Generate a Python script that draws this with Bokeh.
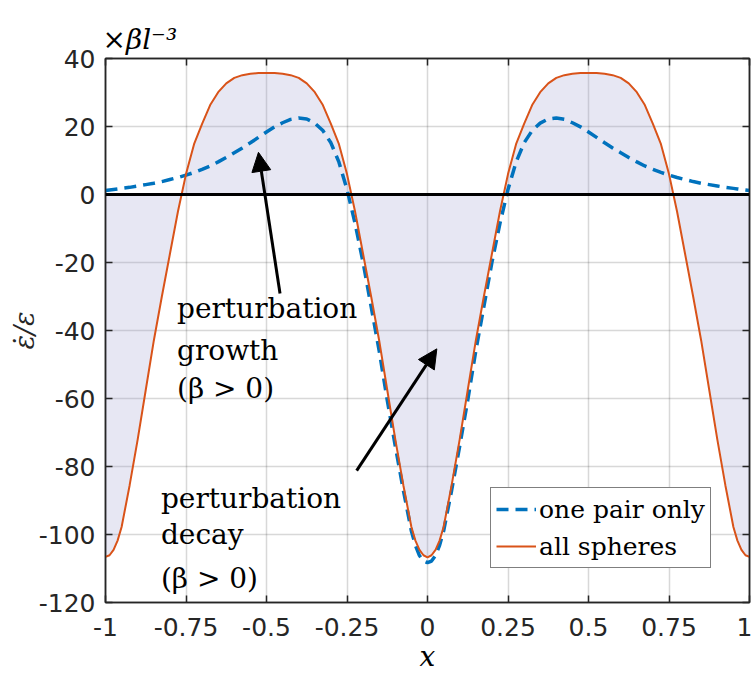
from bokeh.plotting import figure
from bokeh.models import (LinearAxis, FixedTicker, Span, Arrow, NormalHead,
                          Legend, LegendItem, Range1d)
from bokeh.core.properties import value
from bokeh.embed import file_html
from bokeh.resources import INLINE

# ---------------- data ----------------
x_vals = [-1.0, -0.9875, -0.975, -0.9625, -0.95, -0.925, -0.9, -0.875, -0.85, -0.825, -0.8, -0.775,
          -0.75, -0.725, -0.7, -0.675, -0.65, -0.625, -0.6, -0.575, -0.55, -0.525,
          -0.5, -0.475, -0.45, -0.425, -0.4, -0.375, -0.35, -0.325, -0.3, -0.275,
          -0.25, -0.225, -0.2, -0.175, -0.15, -0.125, -0.1, -0.075, -0.05, -0.0375, -0.025, -0.0125,
          0.0, 0.0125, 0.025, 0.0375, 0.05, 0.075, 0.1, 0.125, 0.15, 0.175, 0.2, 0.225,
          0.25, 0.275, 0.3, 0.325, 0.35, 0.375, 0.4, 0.425, 0.45, 0.475,
          0.5, 0.525, 0.55, 0.575, 0.6, 0.625, 0.65, 0.675, 0.7, 0.725,
          0.75, 0.775, 0.8, 0.825, 0.85, 0.875, 0.9, 0.925, 0.95, 0.9625, 0.975, 0.9875, 1.0]

all_spheres = [-106.6, -106.1, -104.5, -101.8, -97.8, -85.5, -72.0, -57.5, -43.0, -30.0, -17.5, -5.0,
               6.0, 14.8, 20.8, 26.3, 30.1, 32.7, 34.3, 35.1, 35.5, 35.7,
               35.7, 35.7, 35.5, 35.1, 34.3, 32.7, 30.1, 26.3, 20.8, 14.8,
               6.0, -5.0, -17.5, -30.0, -43.0, -57.5, -72.0, -85.5, -97.8, -101.8, -104.5, -106.1,
               -106.7, -106.1, -104.5, -101.8, -97.8, -85.5, -72.0, -57.5, -43.0, -30.0, -17.5, -5.0,
               6.0, 14.8, 20.8, 26.3, 30.1, 32.7, 34.3, 35.1, 35.5, 35.7,
               35.7, 35.7, 35.5, 35.1, 34.3, 32.7, 30.1, 26.3, 20.8, 14.8,
               6.0, -5.0, -17.5, -30.0, -43.0, -57.5, -72.0, -85.5, -97.8, -101.8, -104.5, -106.1, -106.6]

one_pair = [1.2, 1.35, 1.5, 1.65, 1.8, 2.1, 2.5, 2.9, 3.3, 3.8, 4.4, 5.0,
            5.7, 6.5, 7.4, 8.4, 9.6, 10.9, 12.3, 13.7, 15.2, 16.8,
            18.4, 19.9, 21.1, 22.1, 22.5, 22.2, 21.0, 18.8, 15.2, 9.5,
            1.5, -8.5, -20.0, -33.0, -46.0, -60.5, -74.0, -87.0, -99.0, -103.2, -106.2, -107.8,
            -108.3, -107.8, -106.2, -103.2, -99.0, -87.0, -74.0, -60.5, -46.0, -33.0, -20.0, -8.5,
            1.5, 9.5, 15.2, 18.8, 21.0, 22.2, 22.5, 22.1, 21.1, 19.9,
            18.4, 16.8, 15.2, 13.7, 12.3, 10.9, 9.6, 8.4, 7.4, 6.5,
            5.7, 5.0, 4.4, 3.8, 3.3, 2.9, 2.5, 2.1, 1.8, 1.65, 1.5, 1.35, 1.2]

x_ticks = [-1, -0.75, -0.5, -0.25, 0, 0.25, 0.5, 0.75, 1]
x_tick_labels = ["-1", "-0.75", "-0.5", "-0.25", "0", "0.25", "0.5", "0.75", "1"]
y_ticks = [-120, -100, -80, -60, -40, -20, 0, 20, 40]
y_tick_labels = ["-120", "-100", "-80", "-60", "-40", "-20", "0", "20", "40"]

series_names = ["one pair only", "all spheres"]
growth_lines = ["perturbation", "growth", "(β > 0)"]
decay_lines = ["perturbation", "decay", "(β > 0)"]

# ---------------- figure ----------------
AX = "#262626"
p = figure(width=752, height=675, output_backend="svg", toolbar_location=None,
           x_range=Range1d(-1, 1), y_range=Range1d(-120, 40),
           min_border_left=105, min_border_right=3, min_border_top=58,
           min_border_bottom=73, background_fill_color="white",
           border_fill_color="white", title="×βl⁻³")
p.outline_line_color = AX
p.outline_line_width = 1.5

p.title.text_font = "DejaVu Serif"
p.title.text_font_style = "italic"
p.title.text_font_size = "28px"
p.title.text_color = "black"
p.title.align = "left"
p.title.offset = -3
p.title.standoff = 6

def style_axis(ax, labels=True):
    ax.axis_line_color = AX
    ax.axis_line_width = 1.5
    ax.major_tick_line_color = AX
    ax.major_tick_line_width = 1.5
    ax.major_tick_in = 7
    ax.major_tick_out = 0
    ax.minor_tick_line_color = None
    if labels:
        ax.major_label_text_font = "DejaVu Sans"
        ax.major_label_text_font_size = "25px"
        ax.major_label_text_color = AX
    else:
        ax.major_label_text_color = None
        ax.major_label_text_font_size = "0px"
        ax.major_label_standoff = 0

xa = p.xaxis[0]
xa.ticker = FixedTicker(ticks=x_ticks)
xa.major_label_overrides = dict(zip(x_ticks, x_tick_labels))
style_axis(xa)
xa.major_label_standoff = 15
xa.axis_label = "x"
xa.axis_label_text_font = "DejaVu Serif"
xa.axis_label_text_font_style = "italic"
xa.axis_label_text_font_size = "28px"
xa.axis_label_text_color = "black"
xa.axis_label_standoff = 1

ya = p.yaxis[0]
ya.ticker = FixedTicker(ticks=y_ticks)
ya.major_label_overrides = dict(zip(y_ticks, y_tick_labels))
style_axis(ya)
ya.major_label_standoff = 10
ya.axis_label = "ε̇/ε"
ya.axis_label_text_font = "DejaVu Serif"
ya.axis_label_text_font_style = "italic"
ya.axis_label_text_font_size = "27px"
ya.axis_label_text_color = AX
ya.axis_label_standoff = -4

top = LinearAxis(ticker=FixedTicker(ticks=x_ticks))
style_axis(top, labels=False)
p.add_layout(top, "above")
right = LinearAxis(ticker=FixedTicker(ticks=y_ticks))
style_axis(right, labels=False)
p.add_layout(right, "right")

for g in (p.xgrid[0], p.ygrid[0]):
    g.grid_line_color = "#262626"
    g.grid_line_alpha = 0.18
    g.grid_line_width = 1.5
p.xgrid[0].ticker = FixedTicker(ticks=x_ticks)
p.ygrid[0].ticker = FixedTicker(ticks=y_ticks)

# fill between curve and zero
p.varea(x=x_vals, y1=0, y2=all_spheres, fill_color="#9999CC", fill_alpha=0.24)

r_blue = p.line(x_vals, one_pair, line_color="#0072BD", line_width=3.5,
                line_dash="12 7")
r_orange = p.line(x_vals, all_spheres, line_color="#D95319", line_width=2)

p.add_layout(Span(location=0, dimension="width", line_color="black", line_width=3))

# annotations
serif = value("DejaVu Serif")
p.text(x=[-0.778, -0.778, -0.778], y=[-33.5, -45.9, -57.2], text=growth_lines,
       text_font=serif, text_font_size=value("28px"), text_color="black",
       text_baseline="alphabetic", text_align="left")
p.text(x=[-0.828, -0.828, -0.828], y=[-89.4, -99.9, -112.8], text=decay_lines,
       text_font=serif, text_font_size=value("28px"), text_color="black",
       text_baseline="alphabetic", text_align="left")

head1 = NormalHead(size=19, fill_color="black", line_color="black")
p.add_layout(Arrow(end=head1, x_start=-0.458, y_start=-29.1, x_end=-0.525, y_end=12.4,
                   line_width=3, line_color="black"))
head2 = NormalHead(size=19, fill_color="black", line_color="black")
p.add_layout(Arrow(end=head2, x_start=-0.22, y_start=-81.2, x_end=0.029, y_end=-45.4,
                   line_width=3, line_color="black"))

legend = Legend(items=[LegendItem(label=series_names[0], renderers=[r_blue]),
                       LegendItem(label=series_names[1], renderers=[r_orange])],
                location=(385, 34))
legend.glyph_width = 40
legend.glyph_height = 32
legend.label_height = 32
legend.spacing = 5
legend.padding = 5
legend.margin = 0
legend.label_standoff = 3
legend.label_text_font = "DejaVu Serif"
legend.label_text_font_size = "25px"
legend.label_text_color = "black"
legend.border_line_color = "black"
legend.border_line_width = 1.5
legend.background_fill_color = "white"
legend.background_fill_alpha = 1.0
p.add_layout(legend)

open("out.html", "w").write(file_html(p, INLINE))
